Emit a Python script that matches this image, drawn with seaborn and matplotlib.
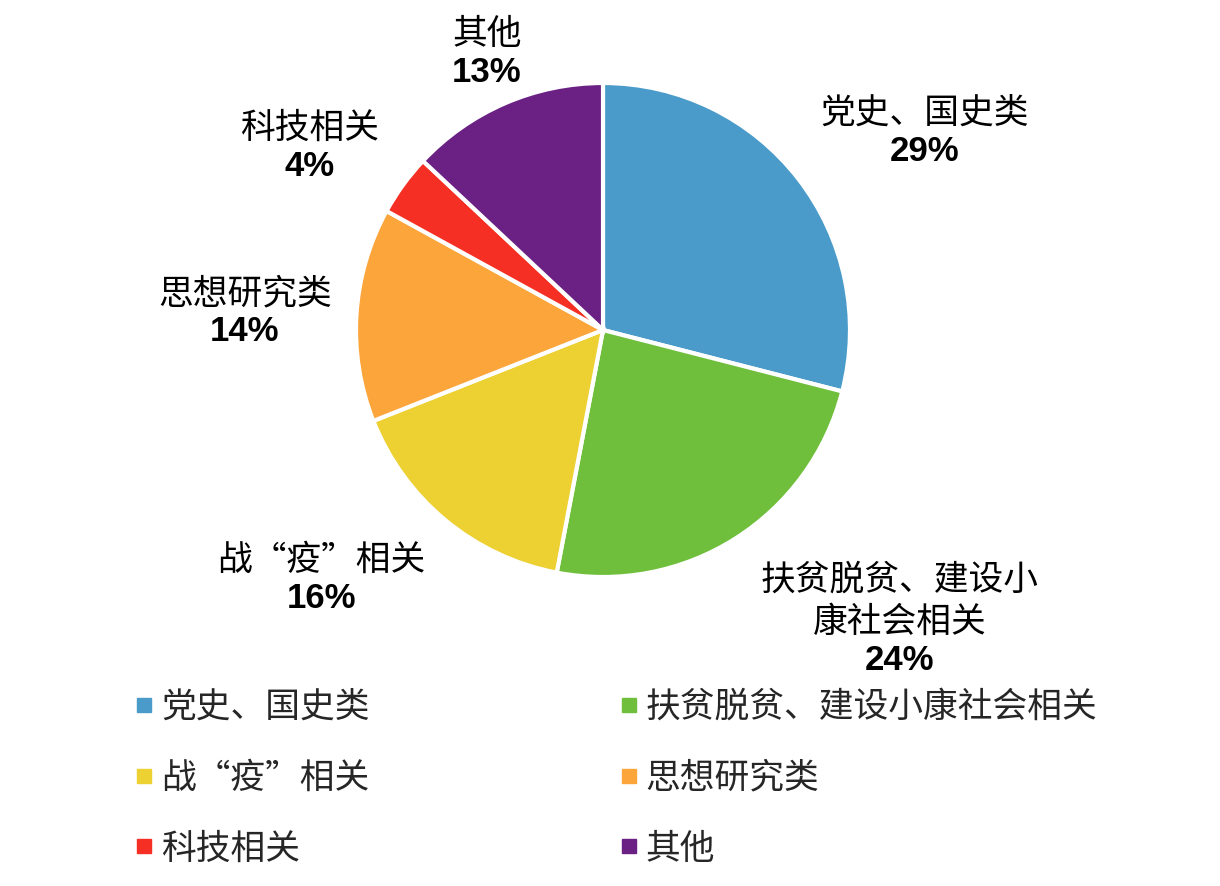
import matplotlib
matplotlib.use("Agg")
import matplotlib.pyplot as plt
import seaborn as sns
from matplotlib.lines import Line2D

# data
categories = ['党史、国史类', '扶贫脱贫、建设小康社会相关', '战“疫”相关', '思想研究类', '科技相关', '其他']
label_text = ['党史、国史类', '扶贫脱贫、建设小\n康社会相关', '战“疫”相关', '思想研究类', '科技相关', '其他']
shares = [29, 24, 16, 14, 4, 13]

colors = ['#4A9BC9', '#6FBF3C', '#EDD032', '#FBA53B', '#F52F24', '#6A2183']
# label anchor (pie radius units): boundary between name and percent
label_pos = [(1.30, 0.80), (1.20, -1.26), (-1.14, -1.01), (-1.45, 0.07), (-1.19, 0.74), (-0.47, 1.12)]

sns.set_theme(style="white")
plt.rcParams['font.family'] = ['Noto Sans CJK SC', 'DejaVu Sans']

fig = plt.figure(figsize=(12.2, 8.86), dpi=100)
ax = fig.add_axes([356 / 1220, (886 - 577) / 886, 494 / 1220, 494 / 886])

wedges, _ = ax.pie(shares, colors=colors, startangle=90, counterclock=False,
                   radius=1, wedgeprops=dict(edgecolor='white', linewidth=3))
ax.set_xlim(-1, 1)
ax.set_ylim(-1, 1)
ax.set_aspect('equal')
ax.axis('off')

for txt, val, (x, y) in zip(label_text, shares, label_pos):
    ax.text(x, y + 0.005, txt, ha='center', va='bottom', fontsize=25,
            linespacing=1.28, color='black')
    ax.text(x, y - 0.01, f'{val}%', ha='center', va='top', fontsize=25,
            fontweight='bold', family=['Liberation Sans', 'DejaVu Sans'], color='black')

handles = [Line2D([], [], marker='s', linestyle='', markersize=9.5, color=c) for c in colors]
order = [0, 2, 4, 1, 3, 5]
fig.legend([handles[i] for i in order], [categories[i] for i in order],
           loc='upper left', bbox_to_anchor=(134 / 1220, (886 - 690) / 886),
           ncol=2, frameon=False, fontsize=25, handlelength=0.6, handletextpad=0.18,
           labelspacing=1.03, columnspacing=7.16, borderpad=0, borderaxespad=0)

fig.savefig('out.png', dpi=100, facecolor='white')
